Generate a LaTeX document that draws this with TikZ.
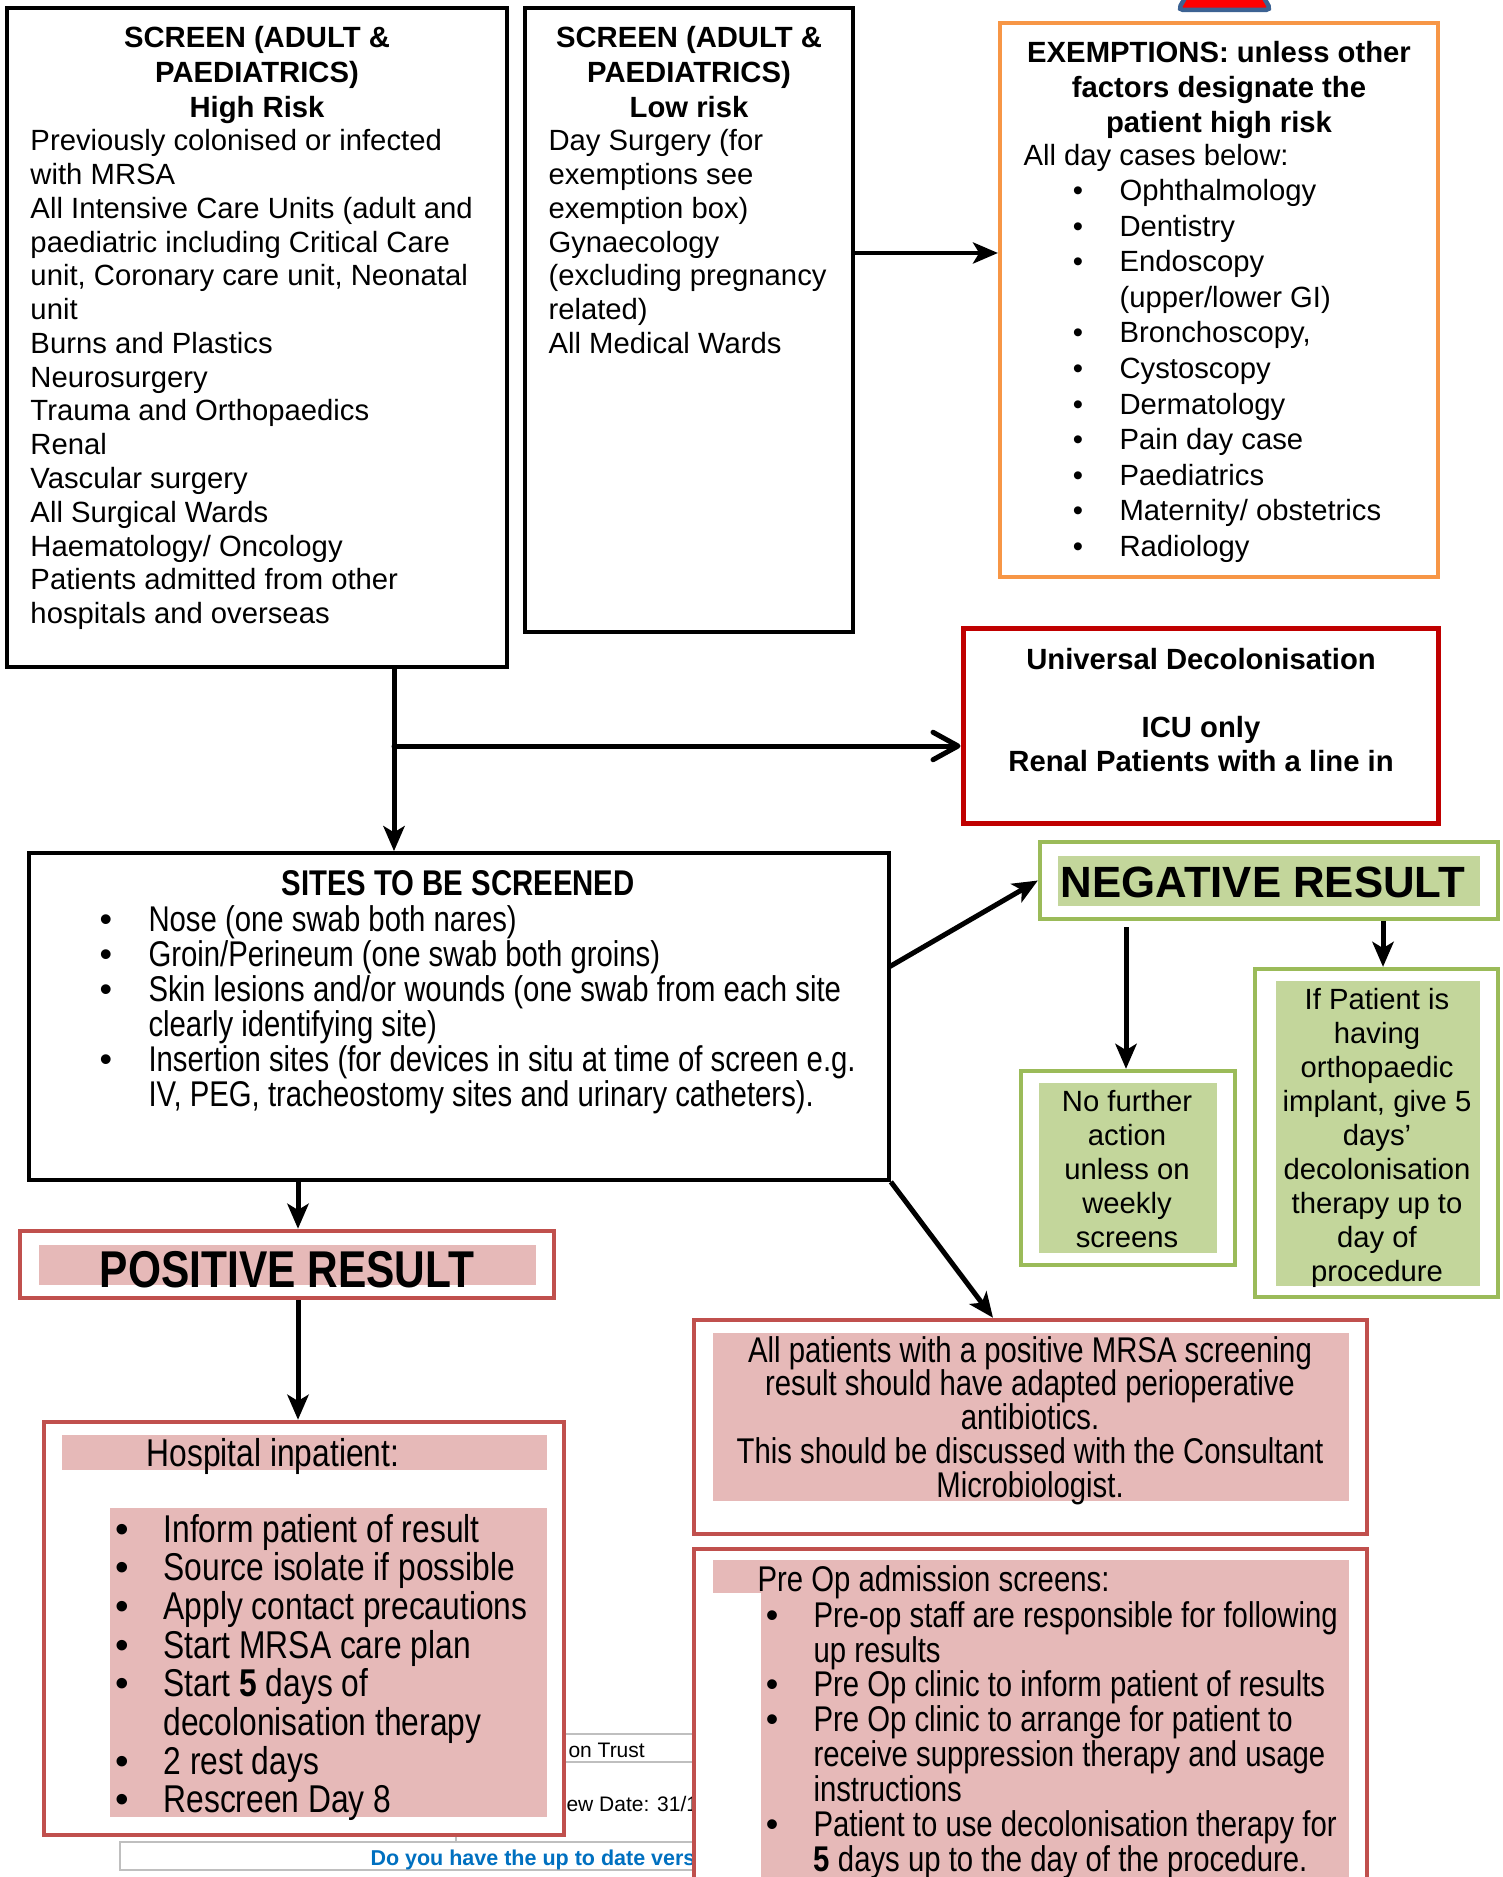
\documentclass[tikz,border=0pt]{standalone}
\usepackage{fontspec}
\setmainfont{Liberation Sans}
\newfontfamily\narrowfont[FakeStretch=0.82]{Liberation Sans}
\usetikzlibrary{arrows.meta,fit}

\definecolor{exorange}{HTML}{F79646}
\definecolor{decolred}{HTML}{C00000}
\definecolor{neggreen}{HTML}{9BBB59}
\definecolor{negfill}{HTML}{C3D69B}
\definecolor{posred}{HTML}{C0504D}
\definecolor{posfill}{HTML}{E6B9B8}
\definecolor{signblue}{HTML}{3C6293}
\definecolor{footgrey}{HTML}{BFBFBF}
\definecolor{footblue}{HTML}{0070C0}

\begin{document}
\begin{tikzpicture}[x=0.4pt,y=-0.4pt,
    box/.style={draw,line width=1.5pt,fill=white,inner sep=0pt},
    orangebox/.style={box,draw=exorange,line width=1.7pt},
    darkredbox/.style={box,draw=decolred,line width=2pt},
    greenbox/.style={box,draw=neggreen,line width=1.7pt},
    redbox/.style={box,draw=posred,line width=1.8pt},
    txt/.style={inner sep=0pt,anchor=base west,align=left,text width=300pt,font=\fontsize{11.7}{13.5}\selectfont,
      execute at begin node={\spaceskip 0.278em\relax}},
    ctxt/.style={txt,anchor=base,align=center},
    head/.style={ctxt,font=\fontsize{11.7}{13.9}\selectfont\bfseries},
    narrow/.style={txt,font=\narrowfont\fontsize{14.3}{14}\selectfont,
      execute at begin node={\spaceskip 0.228em\relax}},
    bignarrow/.style={narrow,font=\narrowfont\fontsize{15.5}{15.5}\selectfont},
    cnarrow/.style={narrow,anchor=base,align=center},
    bul/.style={inner sep=0pt,anchor=base},
    footer/.style={inner sep=0pt,anchor=base west,font=\fontsize{8.4}{10}\selectfont},
    rule/.style={draw=footgrey,line width=0.6pt},
    arr/.style={-{Stealth[length=10pt,width=8.5pt,inset=2.5pt]},line width=2pt},
    barb/.style={-{Straight Barb[length=10pt,width=11pt,round]},line width=2pt,line cap=round},
  ]
  \useasboundingbox (0,0) rectangle (1503,1877);

  % warning sign cut by the page edge
  \draw[draw=signblue,fill=red,line width=1.8pt,rounded corners=2pt]
    (1178,10) -- (1271,10) -- (1224.5,-70) -- cycle;

  % page footer behind the boxes
  \draw[rule] (456,1835) -- (456,1842);
  \draw[rule] (120,1842) rectangle (700,1870);
  \draw[rule] (540,1734) -- (700,1734);
  \draw[rule] (540,1762) -- (700,1762);
  \node[footer] (trust) at (568,1757) {on Trust};
  \node[footer] (revdate) at (566,1811) {ew Date: 31/1};
  \node[footer,font=\fontsize{8.6}{10}\selectfont\bfseries,text=footblue] (uptodate) at (370,1865) {Do you have the up to date vers};

  % boxes
  \node[box,fit={(7,8) (507,667)}] (hr) {};
  \node[box,fit={(525,8) (853,632)}] (lr) {};
  \node[orangebox,fit={(1000,23) (1438,577)}] (ex) {};
  \node[darkredbox,fit={(963,628) (1438,823)}] (univ) {};
  \node[box,fit={(29,853) (889,1180)}] (sites) {};
  \node[greenbox,fit={(1040,842) (1498,919)}] (neg) {};
  \node[greenbox,fit={(1021,1071) (1235,1265)}] (nofa) {};
  \node[greenbox,fit={(1255,969) (1498,1297)}] (ifp) {};
  \node[redbox,fit={(20,1231) (554,1298)}] (pos) {};
  \node[redbox,fit={(44,1422) (564,1835)}] (hosp) {};
  \node[redbox,fit={(694,1320) (1367,1534)}] (allp) {};
  \node[redbox,fit={(694,1549) (1367,1900)}] (preop) {};

  % shading behind the texts
  \fill[negfill] (1058,856) rectangle (1480,906);
  \fill[negfill] (1039,1083) rectangle (1217,1253);
  \fill[negfill] (1276,981) rectangle (1480,1286);
  \fill[posfill] (39,1245) rectangle (536,1285);
  \fill[posfill] (62,1435) rectangle (547,1470);
  \fill[posfill] (110,1508) rectangle (547,1817);
  \fill[posfill] (713,1333) rectangle (1349,1501);
  \fill[posfill] (713,1560) rectangle (1349,1593);
  \fill[posfill] (761,1593) rectangle (1349,1880);

  % screening groups
  \node[head] (hrtitle) at (257,48) {SCREEN (ADULT \&\\PAEDIATRICS)\\High Risk};
  \node[txt] (hrbody) at (30,151) {Previously colonised or infected\\with MRSA\\All Intensive Care Units (adult and\\paediatric including Critical Care\\unit, Coronary care unit, Neonatal\\unit\\Burns and Plastics\\Neurosurgery\\Trauma and Orthopaedics\\Renal\\Vascular surgery\\All Surgical Wards\\Haematology/ Oncology\\Patients admitted from other\\hospitals and overseas};
  \node[head] (lrtitle) at (689,48) {SCREEN (ADULT \&\\PAEDIATRICS)\\Low risk};
  \node[txt] (lrbody) at (548,151) {Day Surgery (for\\exemptions see\\exemption box)\\Gynaecology\\(excluding pregnancy\\related)\\All Medical Wards};

  \node[head] (extitle) at (1219,63) {EXEMPTIONS: unless other\\factors designate the\\patient high risk};
  \node[txt] (exlead) at (1023,166) {All day cases below:};
  \foreach \k/\t in {0/Ophthalmology,1/Dentistry,2/{Endoscopy\\(upper/lower GI)},4/{Bronchoscopy,},5/Cystoscopy,6/Dermatology,7/Pain day case,8/Paediatrics,9/{Maternity/ obstetrics},10/Radiology}{
      \node[bul,font=\fontsize{11.7}{14.2}\selectfont] (exb\k) at (1078,{200.5+35.6*\k}) {\textbullet};
      \node[txt,font=\fontsize{11.7}{14.2}\selectfont] (exi\k) at (1119,{200.5+35.6*\k}) {\t};
    }

  \node[head,font=\fontsize{11.7}{13.6}\selectfont\bfseries] (univtxt) at (1201,669) {Universal Decolonisation\\[13.6pt]ICU only\\Renal Patients with a line in};

  % sites
  \node[cnarrow,font=\narrowfont\fontsize{14.3}{14}\selectfont\bfseries] (sitestitle) at (458,895) {SITES TO BE SCREENED};
  \foreach \k/\t in {0/{Nose (one swab both nares)},1/{Groin/Perineum (one swab both groins)},2/{Skin lesions and/or wounds (one swab from each site\\clearly identifying site)},4/{Insertion sites (for devices in situ at time of screen e.g.\\IV, PEG, tracheostomy sites and urinary catheters).}}{
      \node[bul,font=\fontsize{14.3}{14}\selectfont] (sb\k) at (106,{931+35*\k}) {\textbullet};
      \node[narrow] (si\k) at (148,{931+35*\k}) {\t};
    }

  % results
  \node[ctxt,font=\fontsize{17.5}{20}\selectfont\bfseries] (negtxt) at (1263,897) {NEGATIVE RESULT};
  \node[ctxt,font=\fontsize{11.7}{13.6}\selectfont] (nofatxt) at (1127,1111) {No further\\action\\unless on\\weekly\\screens};
  \node[ctxt,font=\fontsize{11.7}{13.6}\selectfont] (ifptxt) at (1377,1009) {If Patient is\\having\\orthopaedic\\implant, give 5\\days’\\decolonisation\\therapy up to\\day of\\procedure};
  \node[cnarrow,font=\narrowfont\fontsize{20.7}{24}\selectfont\bfseries] (postxt) at (287,1287) {POSITIVE RESULT};

  \node[bignarrow] (hosptitle) at (146,1466) {Hospital inpatient:};
  \foreach \k/\t in {0/Inform patient of result,1/Source isolate if possible,2/Apply contact precautions,3/Start MRSA care plan,4/{Start \textbf{5} days of\\decolonisation therapy},6/2 rest days,7/Rescreen Day 8}{
      \node[bul,font=\fontsize{15.5}{15.5}\selectfont] (hb\k) at (122,{1542+38.7*\k}) {\textbullet};
      \node[bignarrow] (hi\k) at (163,{1542+38.7*\k}) {\t};
    }

  \node[cnarrow,font=\narrowfont\fontsize{14.3}{13.5}\selectfont] (allptxt) at (1030,1362) {All patients with a positive MRSA screening\\result should have adapted perioperative\\antibiotics.\\This should be discussed with the Consultant\\Microbiologist.};

  \node[narrow] (pretitle) at (757,1591) {Pre Op admission screens:};
  \foreach \k/\t in {0/{Pre-op staff are responsible for following\\up results},2/{Pre Op clinic to inform patient of results},3/{Pre Op clinic to arrange for patient to\\receive suppression therapy and usage\\instructions},6/{Patient to use decolonisation therapy for\\\textbf{5} days up to the day of the procedure.}}{
      \node[bul,font=\fontsize{14.3}{14}\selectfont] (pb\k) at (772,{1627+34.9*\k}) {\textbullet};
      \node[narrow] (pi\k) at (813,{1627+34.9*\k}) {\t};
    }

  % connectors
  \coordinate (split) at (394,746);
  \coordinate (lrout) at (853,253);
  \coordinate (sneg) at (889,967);
  \coordinate (apx) at (993,1320);
  \coordinate (posx) at (298,1200);
  \coordinate (negl) at (1126,927);
  \coordinate (negr) at (1383,919);
  \draw[arr] (hr.south -| split) -- (sites.north -| split);
  \draw[barb] (split) -- (univ.west |- split);
  \draw[arr,line width=1.5pt] (lr.east |- lrout) -- (ex.west |- lrout);
  \draw[arr] (sneg) -- (neg.west);
  \draw[arr] (sites.south east) -- (allp.north -| apx);
  \draw[arr] (sites.south -| posx) -- (pos.north -| posx);
  \draw[arr] (pos.south -| posx) -- (hosp.north -| posx);
  \draw[arr] (negl) -- (nofa.north -| negl);
  \draw[arr] (neg.south -| negr) -- (ifp.north -| negr);
\end{tikzpicture}
\end{document}
